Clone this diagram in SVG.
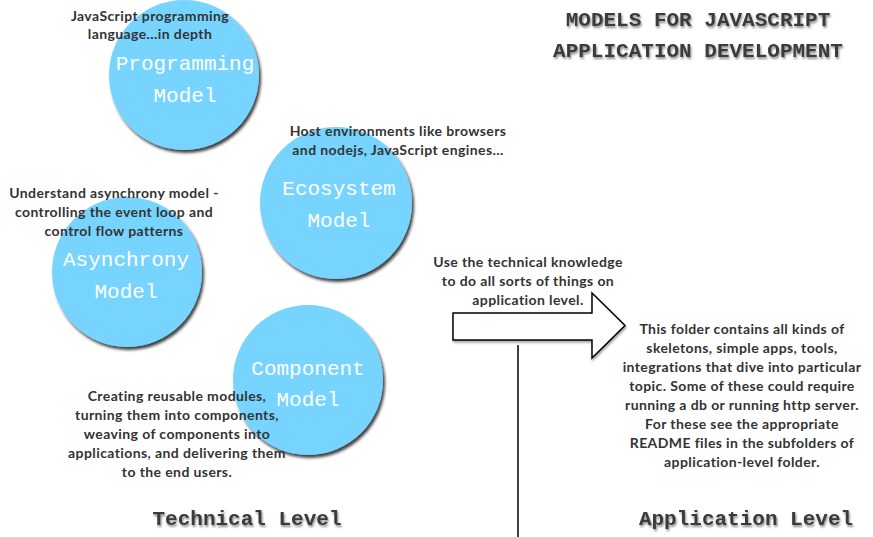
<svg xmlns="http://www.w3.org/2000/svg" width="873" height="537" viewBox="0 0 873 537">
<defs>
<filter id="shadow" x="-20%" y="-20%" width="150%" height="150%">
<feDropShadow dx="2" dy="3" stdDeviation="1.8" flood-color="#000" flood-opacity="0.75"/>
</filter>
<filter id="tshadow" x="-10%" y="-30%" width="120%" height="180%">
<feDropShadow dx="1" dy="2" stdDeviation="1.2" flood-color="#000" flood-opacity="0.45"/>
</filter>
<filter id="ashadow" x="-10%" y="-10%" width="130%" height="130%">
<feDropShadow dx="1" dy="2" stdDeviation="1.2" flood-color="#000" flood-opacity="0.35"/>
</filter>
</defs>
<style>
.circ { fill: #77d4fe; filter: url(#shadow); }
.ctext { font-family: "Liberation Mono", "DejaVu Sans Mono", monospace; font-size: 21px; fill: #ffffff; text-anchor: middle; }
.body { font-family: Lato, "Open Sans", sans-serif; font-weight: bold; font-size: 14px; letter-spacing: 0.4px; fill: #333333; text-anchor: middle; }
.head { font-family: "Liberation Mono", "DejaVu Sans Mono", monospace; font-weight: bold; font-size: 21px; fill: #3a3a3a; text-anchor: middle; filter: url(#tshadow); }
.line { stroke: #000; stroke-width: 1.5; fill: none; }
</style>
<rect width="873" height="537" fill="#ffffff"/>

<g id="programming-model">
<circle class="circ" cx="184" cy="75" r="75"/>
<text class="ctext" x="185" y="70">Programming</text>
<text class="ctext" x="185" y="102">Model</text>
<text class="body" x="150" y="21">JavaScript programming</text>
<text class="body" x="150" y="39">language...in depth</text>
</g>

<g id="ecosystem-model">
<circle class="circ" cx="336" cy="203" r="76"/>
<text class="ctext" x="339" y="195">Ecosystem</text>
<text class="ctext" x="339" y="227">Model</text>
<text class="body" x="398" y="136">Host environments like browsers</text>
<text class="body" x="398" y="155">and nodejs, JavaScript engines...</text>
</g>

<g id="asynchrony-model">
<circle class="circ" cx="127" cy="272" r="75"/>
<text class="ctext" x="126" y="266">Asynchrony</text>
<text class="ctext" x="126" y="298">Model</text>
<text class="body" x="114" y="198">Understand asynchrony model -</text>
<text class="body" x="114" y="217">controlling the event loop and</text>
<text class="body" x="114" y="236">control flow patterns</text>
</g>

<g id="component-model">
<circle class="circ" cx="308" cy="380" r="75"/>
<text class="ctext" x="308" y="375">Component</text>
<text class="ctext" x="308" y="406">Model</text>
<text class="body" x="177" y="401">Creating reusable modules,</text>
<text class="body" x="177" y="420">turning them into components,</text>
<text class="body" x="177" y="439">weaving of components into</text>
<text class="body" x="177" y="458">applications, and delivering them</text>
<text class="body" x="177" y="477">to the end users.</text>
</g>

<g id="title">
<text class="head" x="698" y="26">MODELS FOR JAVASCRIPT</text>
<text class="head" x="698" y="57">APPLICATION DEVELOPMENT</text>
</g>

<g id="application-note">
<text class="body" x="528" y="267">Use the technical knowledge</text>
<text class="body" x="528" y="286">to do all sorts of things on</text>
<text class="body" x="528" y="305">application level.</text>
</g>

<g id="application-description">
<text class="body" x="742" y="334">This folder contains all kinds of</text>
<text class="body" x="742" y="353">skeletons, simple apps, tools,</text>
<text class="body" x="742" y="372">integrations that dive into particular</text>
<text class="body" x="742" y="391">topic. Some of these could require</text>
<text class="body" x="742" y="410">running a db or running http server.</text>
<text class="body" x="742" y="429">For these see the appropriate</text>
<text class="body" x="742" y="448">README files in the subfolders of</text>
<text class="body" x="742" y="467">application-level folder.</text>
</g>

<g id="technical-level">
<text class="head" x="247" y="525">Technical Level</text>
</g>
<g id="application-level">
<text class="head" x="746" y="525">Application Level</text>
</g>

<g id="connectors">
<path class="line" d="M453,313 L592,313 L592,293 L625,325.5 L592,358 L592,340 L453,340 Z" style="fill:#ffffff; filter:url(#ashadow)"/>
<line class="line" x1="518" y1="345" x2="518" y2="537"/>
</g>
</svg>
